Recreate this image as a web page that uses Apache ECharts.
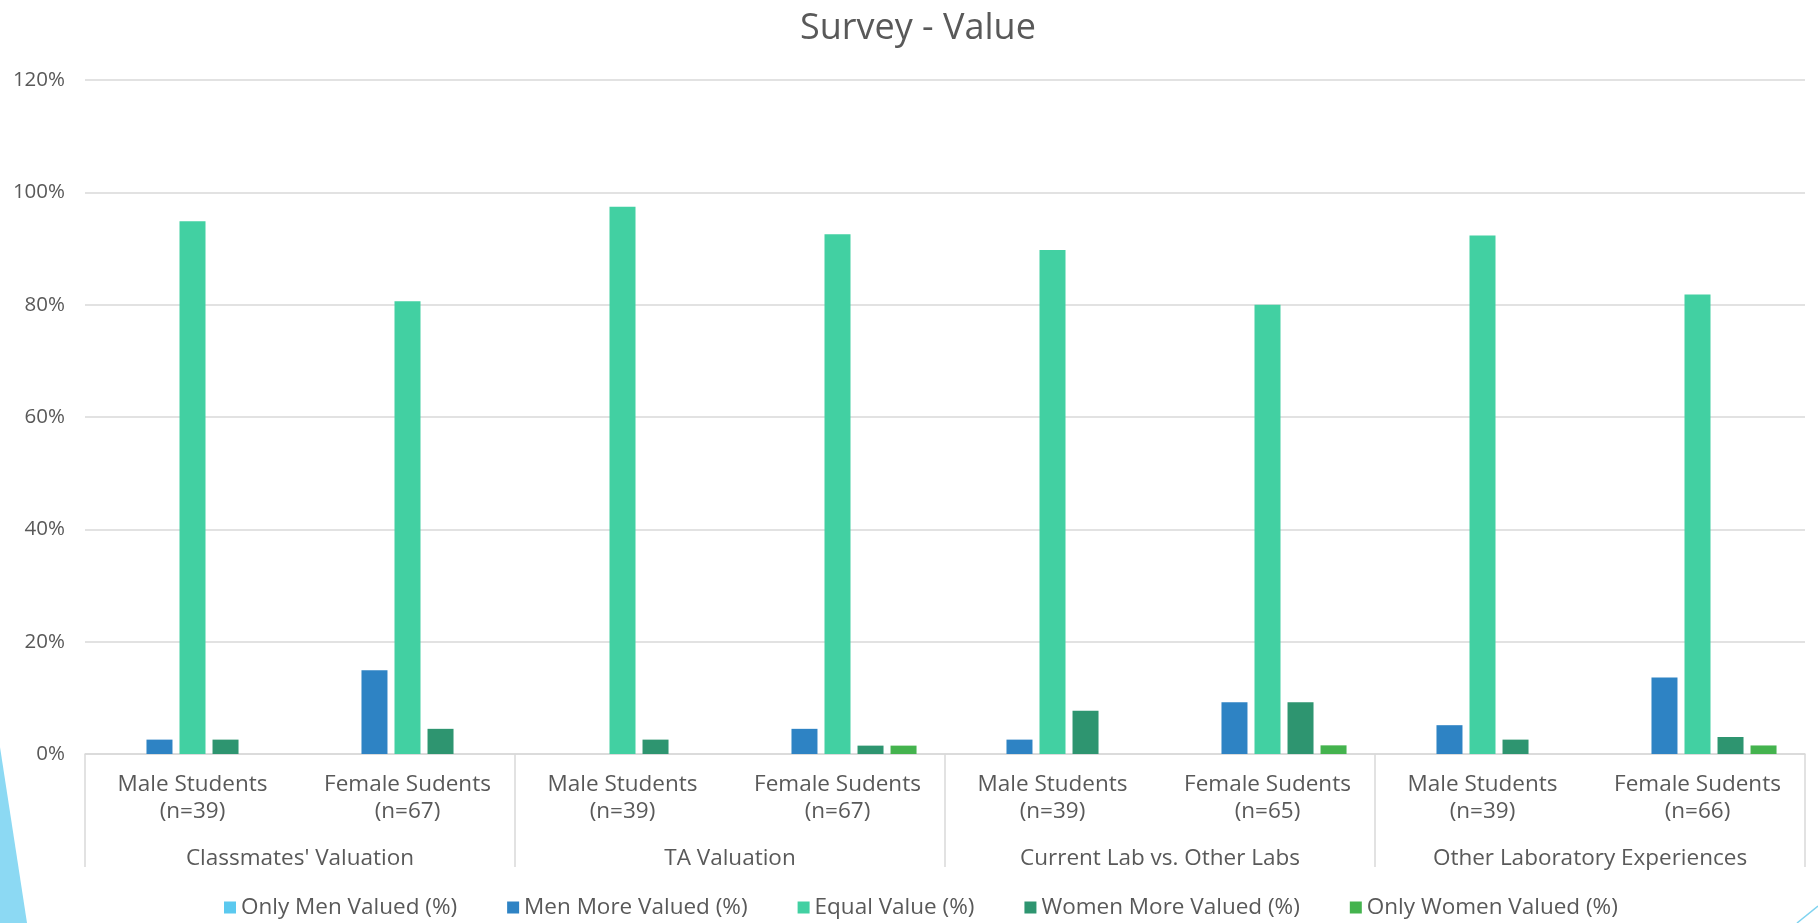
<!DOCTYPE html>
<html>
<head>
<meta charset="utf-8">
<script src="https://cdn.jsdelivr.net/npm/echarts@6/dist/echarts.min.js"></script>
<style>
html,body{margin:0;padding:0;background:#fff;}
#chart{width:1818px;height:923px;}
</style>
</head>
<body>
<div id="chart"></div>
<script>
// ---- Data ----
var groupNames = ["Classmates' Valuation", "TA Valuation", "Current Lab vs. Other Labs", "Other Laboratory Experiences"];
var subgroupLabels = [
  "Male Students\n(n=39)", "Female Sudents\n(n=67)",
  "Male Students\n(n=39)", "Female Sudents\n(n=67)",
  "Male Students\n(n=39)", "Female Sudents\n(n=65)",
  "Male Students\n(n=39)", "Female Sudents\n(n=66)"
];
var seriesNames = ["Only Men Valued (%)", "Men More Valued (%)", "Equal Value (%)", "Women More Valued (%)", "Only Women Valued (%)"];
var onlyMen    = [0, 0, 0, 0, 0, 0, 0, 0];
var menMore    = [2.56, 14.93, 0, 4.48, 2.56, 9.23, 5.13, 13.64];
var equalValue = [94.87, 80.60, 97.44, 92.54, 89.74, 80.00, 92.31, 81.82];
var womenMore  = [2.56, 4.48, 2.56, 1.49, 7.69, 9.23, 2.56, 3.03];
var onlyWomen  = [0, 0, 0, 1.49, 0, 1.54, 0, 1.52];
var yTicks = [0, 20, 40, 60, 80, 100, 120];

var colors = ["#5BC9EF", "#2E83C4", "#42D0A2", "#2E9570", "#44B34E"];
var seriesValues = [onlyMen, menMore, equalValue, womenMore, onlyWomen];

var textColor = "#595959";
var lineColor = "#d9d9d9";
var fontFam = "'Open Sans', sans-serif";

var chart = echarts.init(document.getElementById('chart'));
var option = {
  backgroundColor: '#ffffff',
  animation: false,
  color: colors,
  title: {
    text: 'Survey - Value',
    left: 795,
    top: 6,
    textStyle: { color: textColor, fontSize: 36, fontWeight: 'normal', fontFamily: fontFam }
  },
  legend: {
    data: seriesNames,
    left: 219,
    top: 891,
    icon: 'rect',
    itemWidth: 12,
    itemHeight: 12,
    itemGap: 50,
    itemStyle: { borderWidth: 0 },
    textStyle: { color: textColor, fontSize: 22.5, fontFamily: fontFam }
  },
  grid: { left: 85, right: 13, top: 80, bottom: 169, containLabel: false },
  xAxis: [
    {
      type: 'category',
      data: subgroupLabels.map(function (s, i) { return 'c' + i; }),
      position: 'bottom',
      axisLine: { show: true, lineStyle: { color: lineColor, width: 1.5 } },
      axisTick: { show: false },
      axisLabel: {
        interval: 0,
        margin: 17.5,
        color: textColor,
        fontSize: 22.5,
        lineHeight: 27,
        fontFamily: fontFam,
        formatter: function (v, i) { return subgroupLabels[i]; }
      }
    },
    {
      type: 'category',
      data: groupNames,
      position: 'bottom',
      offset: 0,
      axisLine: { show: false },
      axisTick: { show: true, interval: 0, length: 113, lineStyle: { color: lineColor, width: 1.5 } },
      axisLabel: {
        interval: 0,
        margin: 91.5,
        color: textColor,
        fontSize: 22.5,
        lineHeight: 26,
        fontFamily: fontFam
      }
    }
  ],
  yAxis: {
    type: 'value',
    min: yTicks[0],
    max: yTicks[yTicks.length - 1],
    interval: 20,
    axisLine: { show: false },
    axisTick: { show: false },
    splitLine: { lineStyle: { color: lineColor, width: 1.5 } },
    axisLabel: { formatter: '{value}%', color: textColor, fontSize: 20.5, margin: 20, fontFamily: fontFam }
  },
  series: seriesNames.map(function (name, k) {
    return {
      name: name,
      type: 'bar',
      xAxisIndex: 0,
      barWidth: 26,
      barGap: '27%',
      itemStyle: { color: colors[k] },
      data: seriesValues[k]
    };
  }),
  graphic: [
    {
      type: 'polygon',
      silent: true,
      shape: { points: [[0, 747], [27, 923], [0, 923]] },
      style: { fill: '#8CD9F3' }
    },
    {
      type: 'line',
      silent: true,
      shape: { x1: 1797, y1: 923, x2: 1818, y2: 906 },
      style: { stroke: '#7FD3F0', lineWidth: 1.5 }
    }
  ]
};
chart.setOption(option);
</script>
</body>
</html>
